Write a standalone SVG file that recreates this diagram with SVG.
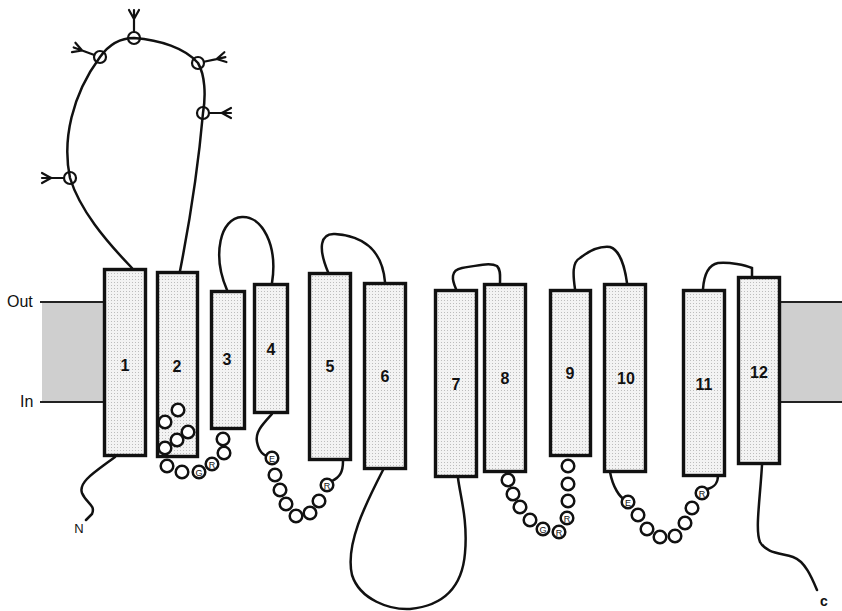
<svg xmlns="http://www.w3.org/2000/svg" xmlns:xlink="http://www.w3.org/1999/xlink" width="842" height="611" viewBox="0 0 842 611">
<style>
.tm{fill:url(#dots);stroke:#111;stroke-width:3.4}
.lab{font-family:"Liberation Sans",Arial,sans-serif;font-weight:bold;font-size:16px;text-anchor:middle;fill:#111}
.loop{fill:none;stroke:#111;stroke-width:2.5;stroke-linecap:round}
.bead{fill:#fff;stroke:#111;stroke-width:2.5}
.site{fill:none;stroke:#111;stroke-width:2.2}
.aa{font-family:"Liberation Sans",Arial,sans-serif;font-size:9px;text-anchor:middle;fill:#111}
.side{font-family:"Liberation Sans",Arial,sans-serif;font-size:16px;fill:#111}
.mem{fill:#cfcfcf}
.memline{stroke:#222;stroke-width:2}
</style>
<defs>
<pattern id="dots" width="3" height="3" patternUnits="userSpaceOnUse">
<rect width="3" height="3" fill="#f3f3f3"/>
<rect width="1" height="1" fill="#bdbdbd"/>
</pattern>
<g id="glyc" fill="none" stroke="#111" stroke-width="2.2" stroke-linecap="round">
<path d="M6,0 L19,0 M19,0 L28,-5 M19,0 L28,0 M19,0 L28,5"/>
</g>
</defs>
<rect width="842" height="611" fill="#fff"/>
<g id="membrane">
<rect class="mem" x="42" y="302" width="62" height="100"/>
<rect class="mem" x="781" y="302" width="61" height="100"/>
<line class="memline" x1="40" y1="302" x2="104" y2="302"/>
<line class="memline" x1="40" y1="402" x2="104" y2="402"/>
<line class="memline" x1="781" y1="302" x2="842" y2="302"/>
<line class="memline" x1="781" y1="402" x2="842" y2="402"/>
<text class="side" x="7" y="307">Out</text>
<text class="side" x="20" y="407">In</text>
</g>
<g id="connectors">
<path class="loop" d="M132,268 C105,240 80,210 70,178 C62,140 72,95 100,57 C110,43 122,38 134,38 C160,40 185,48 198,63 C205,75 206,95 203,113 C198,170 190,220 180,271"/>
<path class="loop" d="M227,290 C212,255 220,218 242,217 C262,216 278,245 272,283"/>
<path class="loop" d="M328,272 C318,248 320,233 335,234 C362,236 382,248 385,282"/>
<path class="loop" d="M456,289 C452,280 450,270 462,268 C475,266 490,262 497,266 C501,270 500,276 500,283"/>
<path class="loop" d="M575,289 C573,275 572,262 580,258 C590,250 600,246 610,247 C620,250 625,268 627,283"/>
<path class="loop" d="M703,289 C704,275 708,265 718,263 C730,262 745,265 752,268 L752,276"/>
<path class="loop" d="M115,457 C95,472 78,482 82,493 C86,503 96,505 92,514 L86,520"/>
<path class="loop" d="M272,414 C262,425 255,432 257,442 C259,452 264,456 268,456"/>
<path class="loop" d="M332,481 C340,477 343,472 343,461"/>
<path class="loop" d="M383,470 C365,505 345,545 352,575 C360,600 390,610 410,609 C440,606 462,590 465,553 C468,520 460,495 458,478"/>
<path class="loop" d="M610,472 C613,488 620,497 624,499"/>
<path class="loop" d="M707,489 C716,487 718,482 718,475"/>
<path class="loop" d="M762,465 C760,500 755,530 760,542 C766,553 780,553 793,557 C805,561 812,578 817,590"/>
</g>
<g id="glycosylation">
<circle class="site" cx="70" cy="178" r="6"/>
<circle class="site" cx="100" cy="57" r="6"/>
<circle class="site" cx="134" cy="38" r="6"/>
<circle class="site" cx="198" cy="63" r="6"/>
<circle class="site" cx="203" cy="113" r="6"/>
<use xlink:href="#glyc" href="#glyc" transform="translate(70,178) rotate(180)"/>
<use xlink:href="#glyc" href="#glyc" transform="translate(100,57) rotate(200)"/>
<use xlink:href="#glyc" href="#glyc" transform="translate(134,38) rotate(270)"/>
<use xlink:href="#glyc" href="#glyc" transform="translate(198,63) rotate(-12)"/>
<use xlink:href="#glyc" href="#glyc" transform="translate(203,113) rotate(0)"/>
</g>
<g id="tm1"><rect class="tm" x="104.5" y="269.5" width="41" height="186"/><text class="lab" x="125" y="371">1</text></g>
<g id="tm2"><rect class="tm" x="157.5" y="272.5" width="40" height="184"/><text class="lab" x="177" y="372">2</text></g>
<g id="tm3"><rect class="tm" x="211.5" y="291.5" width="33" height="137"/><text class="lab" x="227" y="365">3</text></g>
<g id="tm4"><rect class="tm" x="254.5" y="284.5" width="33" height="128"/><text class="lab" x="271" y="355">4</text></g>
<g id="tm5"><rect class="tm" x="309.5" y="273.5" width="41" height="186"/><text class="lab" x="330" y="372">5</text></g>
<g id="tm6"><rect class="tm" x="364.5" y="283.5" width="41" height="185"/><text class="lab" x="385" y="382">6</text></g>
<g id="tm7"><rect class="tm" x="435.5" y="290.5" width="41" height="186"/><text class="lab" x="456" y="390">7</text></g>
<g id="tm8"><rect class="tm" x="484.5" y="284.5" width="41" height="187"/><text class="lab" x="505" y="384">8</text></g>
<g id="tm9"><rect class="tm" x="550.5" y="290.5" width="40" height="165"/><text class="lab" x="570" y="379">9</text></g>
<g id="tm10"><rect class="tm" x="604.5" y="284.5" width="41" height="187"/><text class="lab" x="626" y="384">10</text></g>
<g id="tm11"><rect class="tm" x="683.5" y="290.5" width="41" height="185"/><text class="lab" x="704" y="390">11</text></g>
<g id="tm12"><rect class="tm" x="738.5" y="277.5" width="41" height="186"/><text class="lab" x="759" y="378">12</text></g>
<g id="loop2-3">
<circle class="bead" cx="178" cy="410" r="6.3"/>
<circle class="bead" cx="165" cy="422" r="6.3"/>
<circle class="bead" cx="188" cy="432" r="6.3"/>
<circle class="bead" cx="177" cy="440" r="6.3"/>
<circle class="bead" cx="165" cy="448" r="6.3"/>
<circle class="bead" cx="167" cy="466" r="6.3"/>
<circle class="bead" cx="182" cy="472" r="6.3"/>
<circle class="bead" cx="199" cy="472" r="6.3"/><text class="aa" x="199" y="475.5">G</text>
<circle class="bead" cx="212" cy="464" r="6.3"/><text class="aa" x="212" y="467.5">R</text>
<circle class="bead" cx="224" cy="453" r="6.3"/>
<circle class="bead" cx="223" cy="439" r="6.3"/>
</g>
<g id="loop4-5">
<circle class="bead" cx="272" cy="458" r="6.3"/><text class="aa" x="272" y="461.5">E</text>
<circle class="bead" cx="275" cy="475" r="6.3"/>
<circle class="bead" cx="280" cy="490" r="6.3"/>
<circle class="bead" cx="286" cy="504" r="6.3"/>
<circle class="bead" cx="296" cy="516" r="6.3"/>
<circle class="bead" cx="310" cy="513" r="6.3"/>
<circle class="bead" cx="319" cy="501" r="6.3"/>
<circle class="bead" cx="327" cy="485" r="6.3"/><text class="aa" x="327" y="488.5">R</text>
</g>
<g id="loop8-9">
<circle class="bead" cx="508" cy="480" r="6.3"/>
<circle class="bead" cx="513" cy="494" r="6.3"/>
<circle class="bead" cx="520" cy="507" r="6.3"/>
<circle class="bead" cx="530" cy="520" r="6.3"/>
<circle class="bead" cx="543" cy="529" r="6.3"/><text class="aa" x="543" y="532.5">G</text>
<circle class="bead" cx="559" cy="532" r="6.3"/><text class="aa" x="559" y="535.5">R</text>
<circle class="bead" cx="567" cy="518" r="6.3"/><text class="aa" x="567" y="521.5">R</text>
<circle class="bead" cx="568" cy="501" r="6.3"/>
<circle class="bead" cx="568" cy="484" r="6.3"/>
<circle class="bead" cx="568" cy="466" r="6.3"/>
</g>
<g id="loop10-11">
<circle class="bead" cx="628" cy="502" r="6.3"/><text class="aa" x="628" y="505.5">E</text>
<circle class="bead" cx="638" cy="515" r="6.3"/>
<circle class="bead" cx="647" cy="529" r="6.3"/>
<circle class="bead" cx="660" cy="537" r="6.3"/>
<circle class="bead" cx="675" cy="536" r="6.3"/>
<circle class="bead" cx="685" cy="523" r="6.3"/>
<circle class="bead" cx="692" cy="508" r="6.3"/>
<circle class="bead" cx="702" cy="493" r="6.3"/><text class="aa" x="702" y="496.5">R</text>
</g>
<g id="termini">
<text class="side" x="79" y="533" text-anchor="middle" style="font-size:13px">N</text>
<text class="side" x="824" y="606" text-anchor="middle" style="font-size:14px;font-weight:bold">c</text>
</g>
</svg>
